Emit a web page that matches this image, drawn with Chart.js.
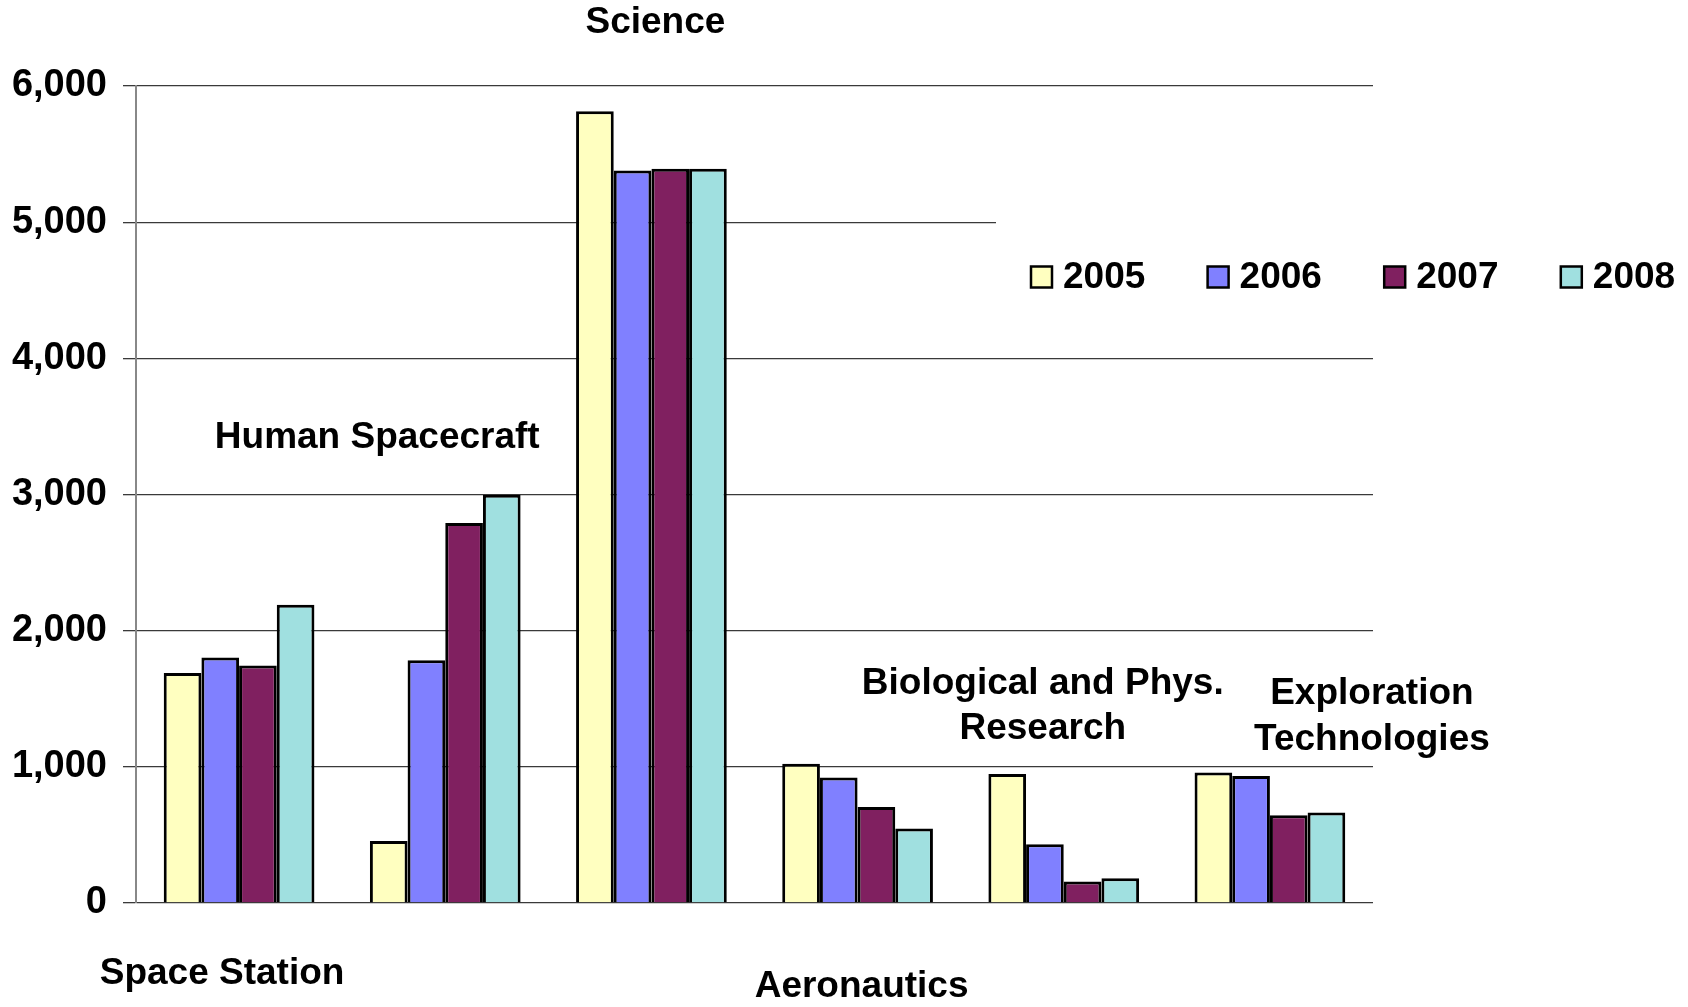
<!DOCTYPE html>
<html>
<head>
<meta charset="utf-8">
<script src="https://cdn.jsdelivr.net/npm/chart.js@4/dist/chart.umd.min.js"></script>
<style>
    body { margin: 0; background: #fff; }
    #wrap { width: 1688px; height: 1007px; }
</style>
</head>
<body>
<div id="wrap"><canvas id="budgetChart" width="1688" height="1007"></canvas></div>
<script>
// chart data
const categories = ['Space Station', 'Human Spacecraft', 'Science', 'Aeronautics',
    ['Biological and Phys.', 'Research'], ['Exploration', 'Technologies']];
const years = ['2005', '2006', '2007', '2008'];
const values2005 = [1690, 455, 5815, 1022, 948, 958];
const values2006 = [1803, 1783, 5380, 922, 432, 932];
const values2007 = [1745, 2790, 5393, 705, 158, 645];
const values2008 = [2190, 2998, 5393, 548, 182, 665];
const yTickValues = [0, 1000, 2000, 3000, 4000, 5000, 6000];

const colors = ['#FFFFC0', '#8080FF', '#802060', '#A0E0E0'];
const font = '"Liberation Sans", Arial, sans-serif';

// where each category caption sits: offset from the category centre, and the line centres
const captionSpots = [
    {dx: -17, y: [974]},
    {dx: -68, y: [438]},
    {dx: 4, y: [23]},
    {dx: 4, y: [987]},
    {dx: -21, y: [684, 729]},
    {dx: 102, y: [694, 740]}
];

const captions = {
    id: 'captions',
    afterDraw(chart) {
        const ctx = chart.ctx;
        const x = chart.scales.x;
        ctx.save();
        ctx.fillStyle = '#000';
        ctx.font = 'bold 37px ' + font;
        ctx.textAlign = 'center';
        ctx.textBaseline = 'middle';
        categories.forEach((cat, i) => {
            const lines = Array.isArray(cat) ? cat : [cat];
            const spot = captionSpots[i];
            lines.forEach((line, j) => {
                ctx.fillText(line, x.getPixelForValue(i) + spot.dx, spot.y[j]);
            });
        });
        ctx.restore();
    }
};

// legend drawn in a white box over the grid, top right
const boxLegend = {
    id: 'boxLegend',
    afterDraw(chart) {
        const ctx = chart.ctx;
        const left = 1031, step = 176.6, cy = 277, sq = 21;
        ctx.save();
        ctx.fillStyle = '#fff';
        ctx.fillRect(996, 210, 692, 134);
        ctx.font = 'bold 37px ' + font;
        ctx.textBaseline = 'middle';
        ctx.textAlign = 'left';
        chart.data.datasets.forEach((ds, i) => {
            const bx = left + i * step;
            ctx.fillStyle = ds.backgroundColor;
            ctx.fillRect(bx, cy - sq / 2, sq, sq);
            ctx.lineWidth = 2.5;
            ctx.strokeStyle = '#000';
            ctx.strokeRect(bx, cy - sq / 2, sq, sq);
            ctx.fillStyle = '#000';
            ctx.fillText(ds.label, bx + sq + 11, cy + 1);
        });
        ctx.restore();
    }
};

const seriesValues = [values2005, values2006, values2007, values2008];

new Chart(document.getElementById('budgetChart'), {
    type: 'bar',
    data: {
        labels: categories,
        datasets: years.map((year, i) => ({
            label: year,
            data: seriesValues[i],
            backgroundColor: colors[i],
            borderColor: '#000',
            borderWidth: 3,
            borderSkipped: 'bottom',
            barPercentage: 1,
            categoryPercentage: 0.731
        }))
    },
    options: {
        responsive: false,
        animation: false,
        layout: {padding: {left: 0, right: 315, top: 86, bottom: 104}},
        plugins: {
            legend: {display: false},
            tooltip: {enabled: false}
        },
        scales: {
            x: {
                grid: {display: false},
                border: {display: false},
                ticks: {display: false},
                afterFit(scale) { scale.height = 0; }
            },
            y: {
                min: 0,
                max: 6000,
                afterFit(scale) { scale.width = 136; },
                afterBuildTicks(scale) { scale.ticks = yTickValues.map(v => ({value: v})); },
                ticks: {
                    color: '#000',
                    padding: 16,
                    font: {family: font, size: 38, weight: 'bold'},
                    callback: v => v.toLocaleString('en-US')
                },
                grid: {color: '#3a3a3a', lineWidth: 1.3, tickLength: 13},
                border: {color: '#888', width: 2}
            }
        }
    },
    plugins: [captions, boxLegend]
});
</script>
</body>
</html>
